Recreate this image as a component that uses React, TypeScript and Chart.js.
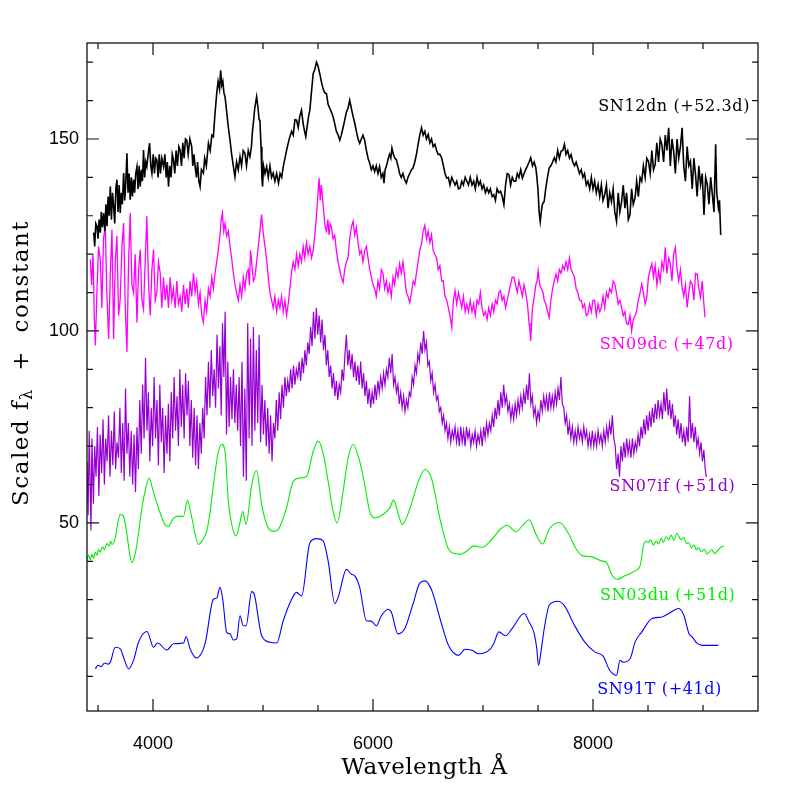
import React, { useEffect, useRef } from "react";
import { Chart, registerables } from "chart.js";

Chart.register(...registerables);

type Pt = [number, number];

// ---- Data (wavelength Å, scaled flux + constant) ----
const sn12dn: Pt[] = [
  [3461,125.6],[3470,122],[3480,128],[3491,127.3],[3500,124],[3510,129],[3521,125.6],[3530,131],[3540,127],[3551,130.7],[3562,126],[3572,133],[3582,127.3],[3592,135],[3602,130],[3612,137.6],[3622,129],[3632,136],[3642,132.5],[3652,128],[3662,137],[3672,139.4],[3682,131],[3692,138],[3702,130.7],[3712,136],[3722,133],[3733,141.1],[3743,134],[3753,139],[3763,146.3],[3773,136],[3783,141],[3793,134.2],[3803,140],[3813,135],[3823,139.4],[3833,136],[3843,141],[3854,142.8],[3864,137],[3874,143],[3884,137.6],[3894,142],[3904,139],[3914,147.1],[3924,140],[3934,144],[3944,142.8],[3956,146],[3969,148.9],[3980,143],[3990,141.1],[4002,146],[4013,141],[4024,145],[4035,144.6],[4046,140],[4057,146],[4068,141],[4080,145],[4096,142.8],[4108,146],[4120,140],[4130,144],[4141,137.6],[4152,143],[4164,140],[4175,146],[4186,144.6],[4198,141],[4210,147],[4222,143],[4235,148],[4247,147.1],[4259,143],[4271,149],[4283,145],[4295,150],[4307,149.7],[4320,146],[4335,150],[4352,148.0],[4362,143],[4372,146],[4383,142.8],[4395,140],[4405,144],[4417,139],[4428,137.6],[4440,142],[4458,141.1],[4470,145],[4485,143],[4504,148.9],[4520,147],[4535,151],[4549,150.6],[4562,156],[4579,161.8],[4592,165],[4605,163],[4615,167.9],[4625,164],[4635,165],[4645,162],[4655,161.0],[4670,157],[4685,153],[4700,149.7],[4715,146],[4730,143],[4745,140.2],[4760,144],[4775,142],[4791,145.4],[4805,143],[4820,147],[4836,146.3],[4850,143],[4866,147],[4881,145.4],[4895,148],[4904,152],[4912,154.1],[4925,158],[4942,161.0],[4955,158],[4965,155],[4972,154.9],[4982,148],[4990,140],[4996,137.6],[5005,143],[5018,141],[5033,142.8],[5048,140],[5063,143],[5078,140],[5093,141.1],[5108,139],[5124,141],[5141,138.5],[5155,141],[5170,140],[5184,142.8],[5200,145],[5214,147],[5230,149],[5244,150.6],[5260,152],[5275,151],[5290,155],[5305,154.9],[5320,153],[5335,156],[5350,157.5],[5365,154],[5378,152],[5389,150.6],[5400,153],[5415,156],[5426,157.5],[5440,162],[5456,167.0],[5470,168],[5486,170.0],[5500,169],[5516,167.0],[5530,165],[5547,163],[5562,162],[5577,161.8],[5592,159],[5607,158],[5622,157],[5637,155.8],[5652,154],[5667,152],[5683,151],[5698,149.7],[5712,151],[5728,153],[5743,154.9],[5758,157],[5773,158],[5788,160.1],[5803,158],[5818,156],[5834,154.1],[5849,152],[5864,150],[5879,148.9],[5894,150],[5909,151],[5924,149.7],[5940,147],[5955,145],[5970,143.7],[5985,142],[6000,143],[6015,141.5],[6030,143],[6045,141],[6060,142.8],[6075,140],[6090,141],[6100,138.5],[6110,142],[6123,143],[6136,144.6],[6150,146],[6162,145],[6172,147.6],[6185,146],[6198,145],[6212,144.6],[6227,143],[6242,141],[6257,140],[6272,141],[6287,139.4],[6303,138.5],[6318,140],[6334,141],[6350,142],[6364,142.5],[6380,144],[6395,146],[6410,148.6],[6425,151],[6441,152.9],[6456,151],[6471,152],[6486,150],[6502,151.2],[6517,149],[6532,150],[6547,148],[6563,148.6],[6578,147],[6593,146],[6608,146],[6624,145.1],[6640,143],[6655,141],[6670,139.8],[6685,140],[6700,138],[6716,140],[6731,139.0],[6746,138],[6761,139],[6777,137],[6792,137.2],[6807,139],[6822,138],[6838,140],[6853,139.0],[6868,138],[6884,140],[6900,138],[6915,139.0],[6930,137],[6946,140],[6961,138],[6976,139.0],[6991,137],[7006,138],[7022,136],[7037,137.2],[7052,136],[7067,137],[7083,135],[7098,135.5],[7113,134],[7128,137],[7144,136],[7159,136.4],[7175,135],[7190,132.9],[7205,138],[7220,141],[7236,140.7],[7251,138],[7266,140],[7281,139],[7297,139.0],[7312,141],[7327,140],[7343,142],[7358,139.8],[7373,141],[7388,142],[7404,143],[7419,144],[7434,145.1],[7450,143],[7465,144],[7480,142.5],[7490,140],[7501,136.4],[7510,131],[7520,128.5],[7530,131],[7540,133],[7556,133.7],[7570,137],[7586,140],[7602,142.5],[7617,143],[7633,144],[7648,145.1],[7663,144],[7679,147],[7694,145],[7709,146.8],[7725,147],[7740,148.6],[7755,146],[7770,147],[7786,145],[7801,145.9],[7816,144],[7832,143],[7847,144],[7862,142.5],[7877,141],[7893,142],[7908,140],[7923,141],[7939,138],[7954,139.0],[7970,137],[7985,140],[8000,137],[8015,139],[8030,136],[8046,138.1],[8061,135],[8076,138],[8091,134],[8107,135.5],[8122,138],[8137,132],[8152,136],[8168,133.7],[8183,137],[8198,131],[8214,128.5],[8229,136],[8244,131],[8260,133.7],[8275,138],[8290,132],[8305,136],[8321,129],[8336,130.2],[8351,137],[8366,133],[8382,134.6],[8397,139],[8412,135],[8428,140],[8443,139.0],[8458,143],[8474,140],[8489,145],[8504,144.2],[8520,141],[8535,147],[8550,142],[8565,143.3],[8580,149],[8596,144],[8611,150],[8626,148.6],[8642,144],[8657,151],[8672,147],[8688,152.9],[8703,143],[8718,150],[8733,146.8],[8749,141],[8764,150],[8779,145],[8795,148],[8810,152.9],[8825,143],[8840,139.0],[8856,148],[8871,143],[8886,144.2],[8902,137],[8917,145],[8932,140.7],[8947,135],[8962,143],[8978,138.1],[8993,141],[9009,130.2],[9024,140],[9039,138.1],[9054,133],[9070,140],[9085,135.5],[9100,131],[9115,148.6],[9125,136],[9140,132.0],[9150,134],[9161,125.0]
];

const sn09dc: Pt[] = [
  [3430,118.6],[3442,112],[3455,120],[3466,104],[3476,96.2],[3490,110],[3505,122],[3521,118.6],[3535,106],[3550,124],[3566,127.3],[3580,110],[3597,97.9],[3612,115],[3627,126.4],[3642,97.9],[3657,118],[3672,124.7],[3687,104],[3702,108.3],[3718,122],[3733,128.1],[3748,106],[3763,94.5],[3778,118],[3793,130.7],[3808,112],[3823,110],[3838,120],[3854,102.2],[3869,116],[3884,121.2],[3899,108],[3914,105.7],[3929,118],[3944,129.9],[3960,112],[3975,104.0],[3990,116],[4005,121.2],[4020,108],[4035,110],[4050,118],[4065,115.2],[4080,106],[4095,114],[4110,108],[4126,112],[4141,106],[4156,114],[4171,108],[4186,111],[4201,106],[4216,113],[4231,107],[4247,109],[4262,105],[4277,112],[4292,107],[4307,111],[4322,106],[4337,113],[4352,109],[4368,115],[4383,110],[4398,113],[4413,107],[4428,110],[4443,104],[4458,102.2],[4473,108],[4488,105],[4504,111],[4519,109],[4534,114],[4549,111],[4564,115],[4579,118],[4594,121.2],[4609,125],[4620,129],[4631,130.7],[4643,126],[4655,128],[4670,124.7],[4685,126],[4700,122],[4715,119],[4730,115.2],[4745,112],[4760,110],[4776,108],[4791,112],[4806,109],[4821,114],[4836,111],[4851,115],[4866,116],[4877,112],[4887,121],[4900,117],[4912,113],[4927,114],[4942,118],[4957,122],[4972,126],[4987,130.3],[5000,126],[5018,122],[5033,118.6],[5048,114],[5063,110],[5078,108],[5093,106],[5108,109],[5124,105],[5139,108],[5154,106],[5169,109],[5184,105],[5199,108],[5214,104],[5229,107],[5244,111],[5259,115],[5274,118],[5290,116],[5305,120],[5320,117],[5335,120],[5350,118],[5365,122],[5380,119],[5395,123],[5410,120],[5426,122],[5441,119],[5456,121],[5471,125],[5486,130],[5498,135],[5510,139.8],[5520,134],[5530,138],[5540,135],[5552,131],[5565,127],[5577,126],[5590,129],[5600,125],[5610,128],[5622,127],[5637,124],[5652,125],[5667,121],[5682,118],[5697,116],[5712,114],[5728,112.6],[5743,116],[5758,118],[5773,119],[5788,124],[5803,127],[5819,128.6],[5834,125],[5849,127],[5864,123],[5879,120],[5894,121],[5909,118],[5925,121],[5940,122],[5955,119],[5970,116],[5985,114],[6000,112],[6015,111],[6030,109],[6045,113],[6060,111],[6076,116],[6091,115],[6106,111],[6121,113],[6136,110],[6151,112],[6166,109],[6182,114],[6197,112],[6212,116],[6227,114],[6242,117.5],[6257,115],[6272,118],[6288,114],[6303,110],[6318,109],[6334,107.4],[6350,110],[6365,113],[6380,112],[6395,115],[6410,118],[6425,121],[6441,122.7],[6456,126],[6471,127.5],[6486,124],[6501,126],[6517,123],[6532,125],[6547,121],[6562,120],[6578,119],[6593,116],[6608,117],[6624,113],[6639,113],[6654,109],[6670,108],[6685,106],[6700,104],[6716,100.9],[6731,108],[6746,110.5],[6761,107],[6777,110],[6792,108],[6807,106],[6822,109],[6838,105],[6853,107],[6868,105],[6884,108],[6900,105],[6915,107],[6930,104],[6946,108],[6961,107],[6976,110],[6991,106],[7006,104],[7022,105],[7037,103],[7052,106],[7067,104],[7083,107],[7098,105],[7113,108],[7128,107],[7144,110],[7159,110.5],[7174,108],[7190,109],[7205,106],[7220,108],[7235,110],[7250,112],[7266,114],[7281,114],[7296,112],[7312,110],[7327,113],[7343,111],[7358,109],[7373,112],[7388,110],[7404,107],[7419,102],[7427,100],[7434,97.4],[7442,102],[7450,106],[7465,108.7],[7480,112],[7492,113],[7501,115.7],[7516,112],[7531,111],[7546,110],[7556,108],[7571,107],[7587,105],[7602,103.5],[7617,108],[7633,111],[7648,113],[7664,114.8],[7679,113],[7694,116],[7709,115],[7725,117],[7740,116],[7755,118],[7770,116],[7786,119],[7801,116],[7816,115],[7832,114],[7847,111],[7862,110],[7878,108],[7893,107.9],[7908,106],[7923,107],[7939,104],[7954,104.4],[7969,107],[7985,105],[8000,108],[8015,107.9],[8030,104],[8046,107],[8061,105],[8076,106.1],[8091,109],[8107,106],[8122,110],[8137,108.7],[8152,111],[8168,110],[8183,113],[8198,112.2],[8213,110],[8229,107],[8244,108],[8260,106.1],[8275,104],[8290,105],[8305,102],[8321,101.7],[8336,104],[8351,100],[8366,103],[8382,104],[8397,105.2],[8412,108],[8428,110],[8443,112.2],[8458,110],[8474,107],[8489,108.7],[8504,114],[8520,116],[8535,117.5],[8550,114],[8565,117],[8581,112],[8596,115.7],[8611,113],[8626,118],[8642,116],[8657,121.8],[8672,115],[8688,119],[8703,117.5],[8718,113],[8733,120],[8749,121.8],[8764,116],[8779,113],[8795,116],[8810,111.3],[8825,109],[8840,112],[8856,106.1],[8871,110],[8886,113],[8902,112.2],[8917,108],[8932,115],[8947,114.8],[8962,111],[8978,108.7],[8993,113],[9008,107],[9018,103.5]
];

const sn07if: Pt[] = [
  [3400,66],[3410,52],[3420,74],[3436,48],[3445,72],[3458,55],[3470,70],[3482,62],[3495,75],[3508,57],[3520,73],[3533,63],[3546,77],[3558,60],[3570,72],[3583,66],[3596,78],[3609,62],[3622,74],[3635,65],[3648,79],[3660,64],[3673,71],[3686,67],[3699,80],[3712,63],[3725,76],[3738,61],[3750,85],[3763,68],[3776,76],[3789,62],[3802,74],[3815,60],[3828,73],[3841,58],[3854,75],[3867,64],[3880,82],[3893,68],[3906,86],[3919,72],[3932,93],[3945,74],[3958,84],[3971,66],[3984,80],[3997,70],[4010,88],[4023,72],[4036,82],[4049,65],[4062,86],[4075,71],[4088,80],[4101,63],[4114,78],[4127,68],[4140,81],[4153,66],[4166,84],[4179,72],[4192,88],[4205,74],[4218,83],[4231,70],[4244,90],[4257,75],[4270,86],[4283,72],[4296,89],[4309,78],[4322,87],[4335,70],[4348,82],[4361,67],[4374,80],[4387,65],[4400,78],[4413,64],[4426,76],[4439,68],[4452,80],[4465,72],[4478,88],[4491,78],[4504,92],[4517,80],[4530,95],[4543,83],[4556,90],[4569,80],[4582,99],[4595,85],[4608,96],[4620,78],[4632,102],[4644,88],[4656,105],[4668,73],[4680,92],[4692,75],[4705,88],[4718,77],[4731,90],[4744,76],[4757,86],[4770,74],[4783,88],[4796,70],[4809,92],[4822,62],[4835,85],[4848,61],[4861,102],[4874,72],[4887,98],[4900,70],[4913,101],[4926,74],[4939,95],[4952,76],[4965,99],[4978,71],[4991,86],[5004,73],[5017,82],[5030,70],[5043,80],[5056,68],[5069,78],[5082,66],[5095,76],[5108,72],[5121,82],[5134,74],[5147,84],[5160,77],[5173,86],[5186,80],[5199,88],[5212,83],[5225,87],[5238,84],[5251,90],[5264,85],[5277,91],[5290,86],[5303,90],[5316,88],[5329,92],[5342,87],[5355,93],[5368,89],[5381,95],[5394,91],[5407,97],[5420,94],[5433,101],[5446,96],[5459,105],[5472,98],[5485,106],[5498,99],[5511,104],[5524,97],[5537,103],[5550,95],[5563,99],[5576,91],[5589,95],[5602,88],[5615,91],[5628,85],[5641,89],[5654,83],[5667,87],[5680,82],[5693,86],[5706,84],[5719,90],[5732,87],[5745,94],[5758,99],[5771,91],[5784,95],[5797,90],[5810,94],[5823,88],[5836,92],[5849,87],[5862,91],[5875,86],[5888,92],[5901,85],[5914,89],[5927,83],[5940,87],[5953,81],[5966,85],[5979,80],[5992,84],[6005,81],[6018,86],[6031,82],[6044,87],[6057,84],[6070,88],[6083,85],[6096,89],[6109,86],[6122,90],[6135,88],[6148,93],[6161,89],[6174,94],[6187,86],[6200,88],[6213,84],[6226,86],[6239,81],[6252,84],[6265,80],[6278,83],[6291,79],[6304,82],[6317,80],[6330,84],[6343,83],[6356,88],[6369,86],[6382,91],[6395,89],[6408,94],[6421,92],[6434,97],[6447,94],[6460,100],[6473,95],[6486,97],[6499,91],[6512,92],[6525,87],[6538,89],[6551,84],[6564,86],[6577,82],[6590,83],[6603,79],[6616,80],[6629,76],[6642,78],[6655,74],[6668,76],[6681,72],[6694,75],[6707,71],[6720,74],[6733,72],[6746,75],[6759,71],[6772,74],[6785,70],[6798,75],[6811,71],[6824,74],[6837,70],[6850,75],[6863,72],[6876,74],[6889,70],[6902,73],[6915,71],[6928,74],[6941,70],[6954,73],[6967,71],[6980,74],[6993,70],[7006,75],[7019,72],[7032,76],[7045,73],[7058,76],[7071,74],[7084,78],[7097,75],[7110,80],[7123,77],[7136,82],[7149,78],[7162,84],[7175,80],[7188,86],[7201,81],[7214,83],[7227,79],[7240,81],[7253,77],[7266,80],[7279,77],[7292,81],[7305,78],[7318,82],[7331,79],[7344,83],[7357,80],[7370,84],[7383,81],[7396,86],[7409,82],[7422,89],[7435,81],[7448,83],[7461,78],[7474,80],[7487,76],[7500,79],[7513,77],[7526,82],[7539,79],[7552,83],[7565,80],[7578,83],[7591,79],[7604,84],[7617,80],[7630,83],[7643,80],[7656,84],[7669,81],[7682,85],[7695,82],[7708,88],[7721,81],[7734,80],[7747,76],[7760,78],[7773,73],[7786,76],[7799,72],[7812,75],[7825,71],[7838,74],[7851,71],[7864,75],[7877,72],[7890,74],[7903,71],[7916,75],[7929,72],[7942,74],[7955,70],[7968,73],[7981,70],[7994,74],[8007,70],[8020,73],[8033,70],[8046,74],[8059,71],[8072,73],[8085,70],[8098,74],[8111,71],[8124,75],[8137,72],[8150,76],[8163,73],[8176,78],[8189,72],[8202,70],[8215,64],[8228,68],[8241,62],[8254,70],[8267,66],[8280,71],[8293,67],[8306,72],[8319,68],[8332,71],[8345,67],[8358,72],[8371,68],[8384,71],[8397,69],[8410,73],[8423,70],[8436,75],[8449,72],[8462,77],[8475,73],[8488,78],[8501,74],[8514,79],[8527,75],[8540,80],[8553,76],[8566,81],[8579,77],[8592,82],[8605,78],[8618,81],[8631,77],[8644,84],[8657,79],[8670,85],[8683,78],[8696,82],[8709,77],[8722,81],[8735,75],[8748,78],[8761,73],[8774,77],[8787,72],[8800,76],[8813,71],[8826,74],[8839,70],[8852,75],[8865,71],[8878,83],[8891,72],[8904,76],[8917,71],[8930,75],[8943,70],[8956,72],[8969,68],[8982,71],[8995,66],[9008,69],[9020,64],[9030,62]
];

const sn03du: Pt[] = [
  [3400,40.5],[3415,41.6],[3430,40.3],[3445,41.8],[3460,40.8],[3475,42.4],[3490,41.6],[3505,43.0],[3521,42.4],[3540,43.8],[3560,43.0],[3580,44.6],[3600,44.0],[3615,45.2],[3627,44.4],[3657,46.1],[3680,50.0],[3703,52.2],[3732,51.7],[3763,47.0],[3790,41.5],[3809,39.6],[3830,41.0],[3854,44.4],[3899,53.9],[3930,58.5],[3966,61.7],[3990,59.5],[4020,56.5],[4081,51.3],[4110,49.5],[4141,49.1],[4180,51.0],[4217,51.7],[4277,51.7],[4313,55.8],[4353,51.3],[4413,44.4],[4450,45.5],[4489,47.9],[4520,53.0],[4549,59.9],[4595,68.6],[4625,70.5],[4655,68.6],[4685,55.6],[4720,49.0],[4755,46.6],[4790,50.0],[4815,53.0],[4846,49.6],[4897,59.9],[4942,63.6],[4988,54.7],[5048,48.7],[5100,47.8],[5139,48.3],[5214,53.9],[5275,60.8],[5335,61.7],[5396,62.1],[5456,68.6],[5501,71.3],[5547,68.1],[5592,60.8],[5637,53.0],[5674,50.0],[5728,58.2],[5773,66.8],[5819,70.5],[5879,66.0],[5925,59.9],[5970,53.0],[6015,51.3],[6091,52.2],[6152,53.9],[6188,56.0],[6227,52.6],[6265,49.6],[6334,53.6],[6410,60.6],[6472,63.9],[6533,61.5],[6609,51.0],[6686,43.2],[6740,42.0],[6793,41.8],[6854,42.7],[6915,44.0],[6991,43.6],[7083,45.8],[7159,48.4],[7221,49.4],[7297,47.7],[7358,49.2],[7419,50.8],[7480,47.1],[7541,44.5],[7603,48.4],[7694,50.1],[7771,47.5],[7847,43.2],[7908,41.4],[7985,41.2],[8076,40.1],[8122,39.7],[8168,36.6],[8214,35.3],[8290,36.2],[8382,37.5],[8428,38.8],[8459,44.0],[8480,45.2],[8504,44.9],[8525,45.6],[8550,44.2],[8575,45.3],[8596,44.5],[8620,46.0],[8640,44.9],[8665,46.4],[8688,45.6],[8710,46.8],[8735,45.5],[8760,47.2],[8779,46.6],[8800,45.6],[8825,46.2],[8850,44.6],[8871,44.9],[8895,43.5],[8920,44.3],[8940,43.0],[8963,43.6],[8985,42.4],[9010,43.2],[9035,41.9],[9055,42.3],[9080,43.0],[9105,42.0],[9131,42.7],[9160,43.6],[9192,44.0]
];

const sn91t: Pt[] = [
  [3476,12.0],[3500,12.9],[3530,12.6],[3560,13.5],[3590,13.2],[3612,13.7],[3657,17.6],[3703,17.2],[3732,15.0],[3778,12.0],[3823,14.2],[3868,18.9],[3945,21.7],[4005,17.6],[4041,18.7],[4126,16.9],[4186,18.5],[4277,18.7],[4301,20.4],[4337,17.2],[4392,14.8],[4473,18.5],[4549,30.1],[4579,30.4],[4609,33.2],[4634,30.1],[4670,21.5],[4700,21.1],[4730,19.5],[4761,19.8],[4791,25.8],[4821,23.2],[4846,23.2],[4897,32.1],[4918,31.6],[4988,20.6],[5063,18.9],[5124,18.7],[5184,24.5],[5260,30.1],[5305,31.9],[5351,31.0],[5426,44.8],[5486,45.9],[5547,45.3],[5592,40.1],[5653,29.0],[5683,30.6],[5759,37.9],[5804,36.6],[5834,36.2],[5879,33.2],[5940,24.5],[5985,24.4],[6030,23.2],[6076,25.8],[6136,27.5],[6167,26.7],[6227,21.1],[6288,22.4],[6363,28.8],[6425,34.3],[6472,34.9],[6533,32.5],[6609,25.1],[6686,18.1],[6777,15.5],[6838,17.1],[6900,16.8],[6961,15.9],[7068,17.2],[7098,18.6],[7144,21.6],[7205,20.6],[7266,22.5],[7373,26.4],[7419,24.2],[7465,21.2],[7489,17.2],[7505,12.9],[7527,16.4],[7557,22.5],[7603,28.6],[7679,29.6],[7741,28.4],[7832,23.3],[7924,19.0],[8015,16.4],[8092,15.3],[8152,11.6],[8214,10.3],[8245,14.2],[8275,13.7],[8337,14.6],[8383,19.0],[8444,21.6],[8535,25.1],[8627,25.5],[8688,26.4],[8779,27.7],[8825,26.0],[8872,21.2],[8901,20.3],[8948,18.6],[8993,18.1],[9055,18.1],[9140,18.1]
];

const seriesData: Pt[][] = [sn12dn, sn09dc, sn07if, sn03du, sn91t];
const seriesNames = ["SN12dn (+52.3d)", "SN09dc (+47d)", "SN07if (+51d)", "SN03du (+51d)", "SN91T (+41d)"];
const seriesColors = ["#000000", "#ff00ff", "#9400d3", "#00ee00", "#0000ff"];
const seriesWidths = [1.6, 1.3, 1.2, 1.1, 1.1];
const seriesSmooth = [false, false, false, true, true];
// label anchor (right end of text) in data units
const labelWave = [9427, 9279, 9294, 9294, 9172];
const labelFlux = [158.3, 96.4, 59.3, 31.1, 6.4];

const xMajorTicks = [4000, 6000, 8000];
const xMinorTicks = [3500, 4500, 5000, 5500, 6500, 7000, 7500, 8500, 9000];
const yMajorTicks = [50, 100, 150];
const yMinorTicks = [10, 20, 30, 40, 60, 70, 80, 90, 110, 120, 130, 140, 160, 170];

const X_MIN = 3400, X_MAX = 9500, Y_MIN = 1, Y_MAX = 175;
const SERIF = '"DejaVu Serif"';

export default function App() {
  const ref = useRef<HTMLCanvasElement>(null);

  useEffect(() => {
    const canvas = ref.current;
    if (!canvas) return;

    const overlay = {
      id: "overlay",
      afterDraw(chart: any) {
        const { ctx, chartArea: a, scales } = chart;
        const xs = scales.x, ys = scales.y;
        ctx.save();
        ctx.strokeStyle = "#111";
        ctx.lineWidth = 1.3;
        ctx.strokeRect(a.left, a.top, a.right - a.left, a.bottom - a.top);
        ctx.lineWidth = 1.2;
        const vt = (v: number, len: number) => {
          const p = xs.getPixelForValue(v);
          ctx.beginPath();
          ctx.moveTo(p, a.bottom); ctx.lineTo(p, a.bottom - len);
          ctx.moveTo(p, a.top); ctx.lineTo(p, a.top + len);
          ctx.stroke();
        };
        const ht = (v: number, len: number) => {
          const p = ys.getPixelForValue(v);
          ctx.beginPath();
          ctx.moveTo(a.left, p); ctx.lineTo(a.left + len, p);
          ctx.moveTo(a.right, p); ctx.lineTo(a.right - len, p);
          ctx.stroke();
        };
        xMajorTicks.forEach((v) => vt(v, 12));
        xMinorTicks.forEach((v) => vt(v, 6));
        yMajorTicks.forEach((v) => ht(v, 12));
        yMinorTicks.forEach((v) => ht(v, 6));

        // axis titles
        ctx.fillStyle = "#000";
        ctx.font = `23px ${SERIF}`;
        ctx.letterSpacing = "0.5px";
        ctx.textAlign = "center";
        ctx.textBaseline = "middle";
        ctx.fillText("Wavelength Å", (a.left + a.right) / 2 + 2, 768);

        ctx.save();
        ctx.translate(22, 363);
        ctx.rotate(-Math.PI / 2);
        const mainFont = `23px ${SERIF}`;
        const subFont = `16px ${SERIF}`;
        ctx.letterSpacing = "1.5px";
        ctx.font = mainFont;
        const p1 = "Scaled f";
        const p3 = "  +  constant";
        const w1 = ctx.measureText(p1).width;
        const w3 = ctx.measureText(p3).width;
        ctx.font = subFont;
        const w2 = ctx.measureText("λ").width;
        const total = w1 + w2 + w3;
        const x0 = -total / 2;
        ctx.textAlign = "left";
        ctx.font = mainFont;
        ctx.fillText(p1, x0, 0);
        ctx.font = subFont;
        ctx.fillText("λ", x0 + w1, 6);
        ctx.font = mainFont;
        ctx.fillText(p3, x0 + w1 + w2, 0);
        ctx.restore();

        // series labels
        ctx.font = `16px ${SERIF}`;
        ctx.letterSpacing = "0.6px";
        ctx.textAlign = "right";
        ctx.textBaseline = "middle";
        seriesNames.forEach((name, i) => {
          ctx.fillStyle = seriesColors[i];
          ctx.fillText(name, xs.getPixelForValue(labelWave[i]), ys.getPixelForValue(labelFlux[i]));
        });
        ctx.restore();
      },
    };

    const chart = new Chart(canvas, {
      type: "line",
      data: {
        datasets: seriesData.map((s, i) => ({
          label: seriesNames[i],
          data: s.map(([x, y]) => ({ x, y })),
          borderColor: seriesColors[i],
          backgroundColor: seriesColors[i],
          borderWidth: seriesWidths[i],
          pointRadius: 0,
          tension: seriesSmooth[i] ? 0.4 : 0,
          cubicInterpolationMode: seriesSmooth[i] ? "monotone" : "default",
          fill: false,
        })),
      },
      options: {
        animation: false,
        responsive: false,
        devicePixelRatio: 1,
        layout: { padding: { top: 43, right: 39, left: 0, bottom: 0 } },
        plugins: { legend: { display: false }, tooltip: { enabled: false } },
        scales: {
          x: {
            type: "linear",
            min: X_MIN,
            max: X_MAX,
            grid: { display: false, drawTicks: false },
            border: { display: false },
            ticks: {
              color: "#000",
              font: { family: "Liberation Sans", size: 18 },
              padding: 22,
              maxRotation: 0,
              callback: (v: any) => String(v),
            },
            afterBuildTicks: (s: any) => { s.ticks = xMajorTicks.map((v) => ({ value: v })); },
            afterFit: (s: any) => { s.height = 86; },
          },
          y: {
            type: "linear",
            min: Y_MIN,
            max: Y_MAX,
            grid: { display: false, drawTicks: false },
            border: { display: false },
            ticks: {
              color: "#000",
              font: { family: "Liberation Sans", size: 18 },
              padding: 8,
              callback: (v: any) => String(v),
            },
            afterBuildTicks: (s: any) => { s.ticks = yMajorTicks.map((v) => ({ value: v })); },
            afterFit: (s: any) => { s.width = 87; },
          },
        },
      },
      plugins: [overlay],
    });

    return () => chart.destroy();
  }, []);

  return (
    <div style={{ position: "fixed", left: 0, top: 0, width: 797, height: 797, background: "#fff" }}>
      <canvas ref={ref} width={797} height={797} style={{ display: "block", width: 797, height: 797 }} />
    </div>
  );
}
